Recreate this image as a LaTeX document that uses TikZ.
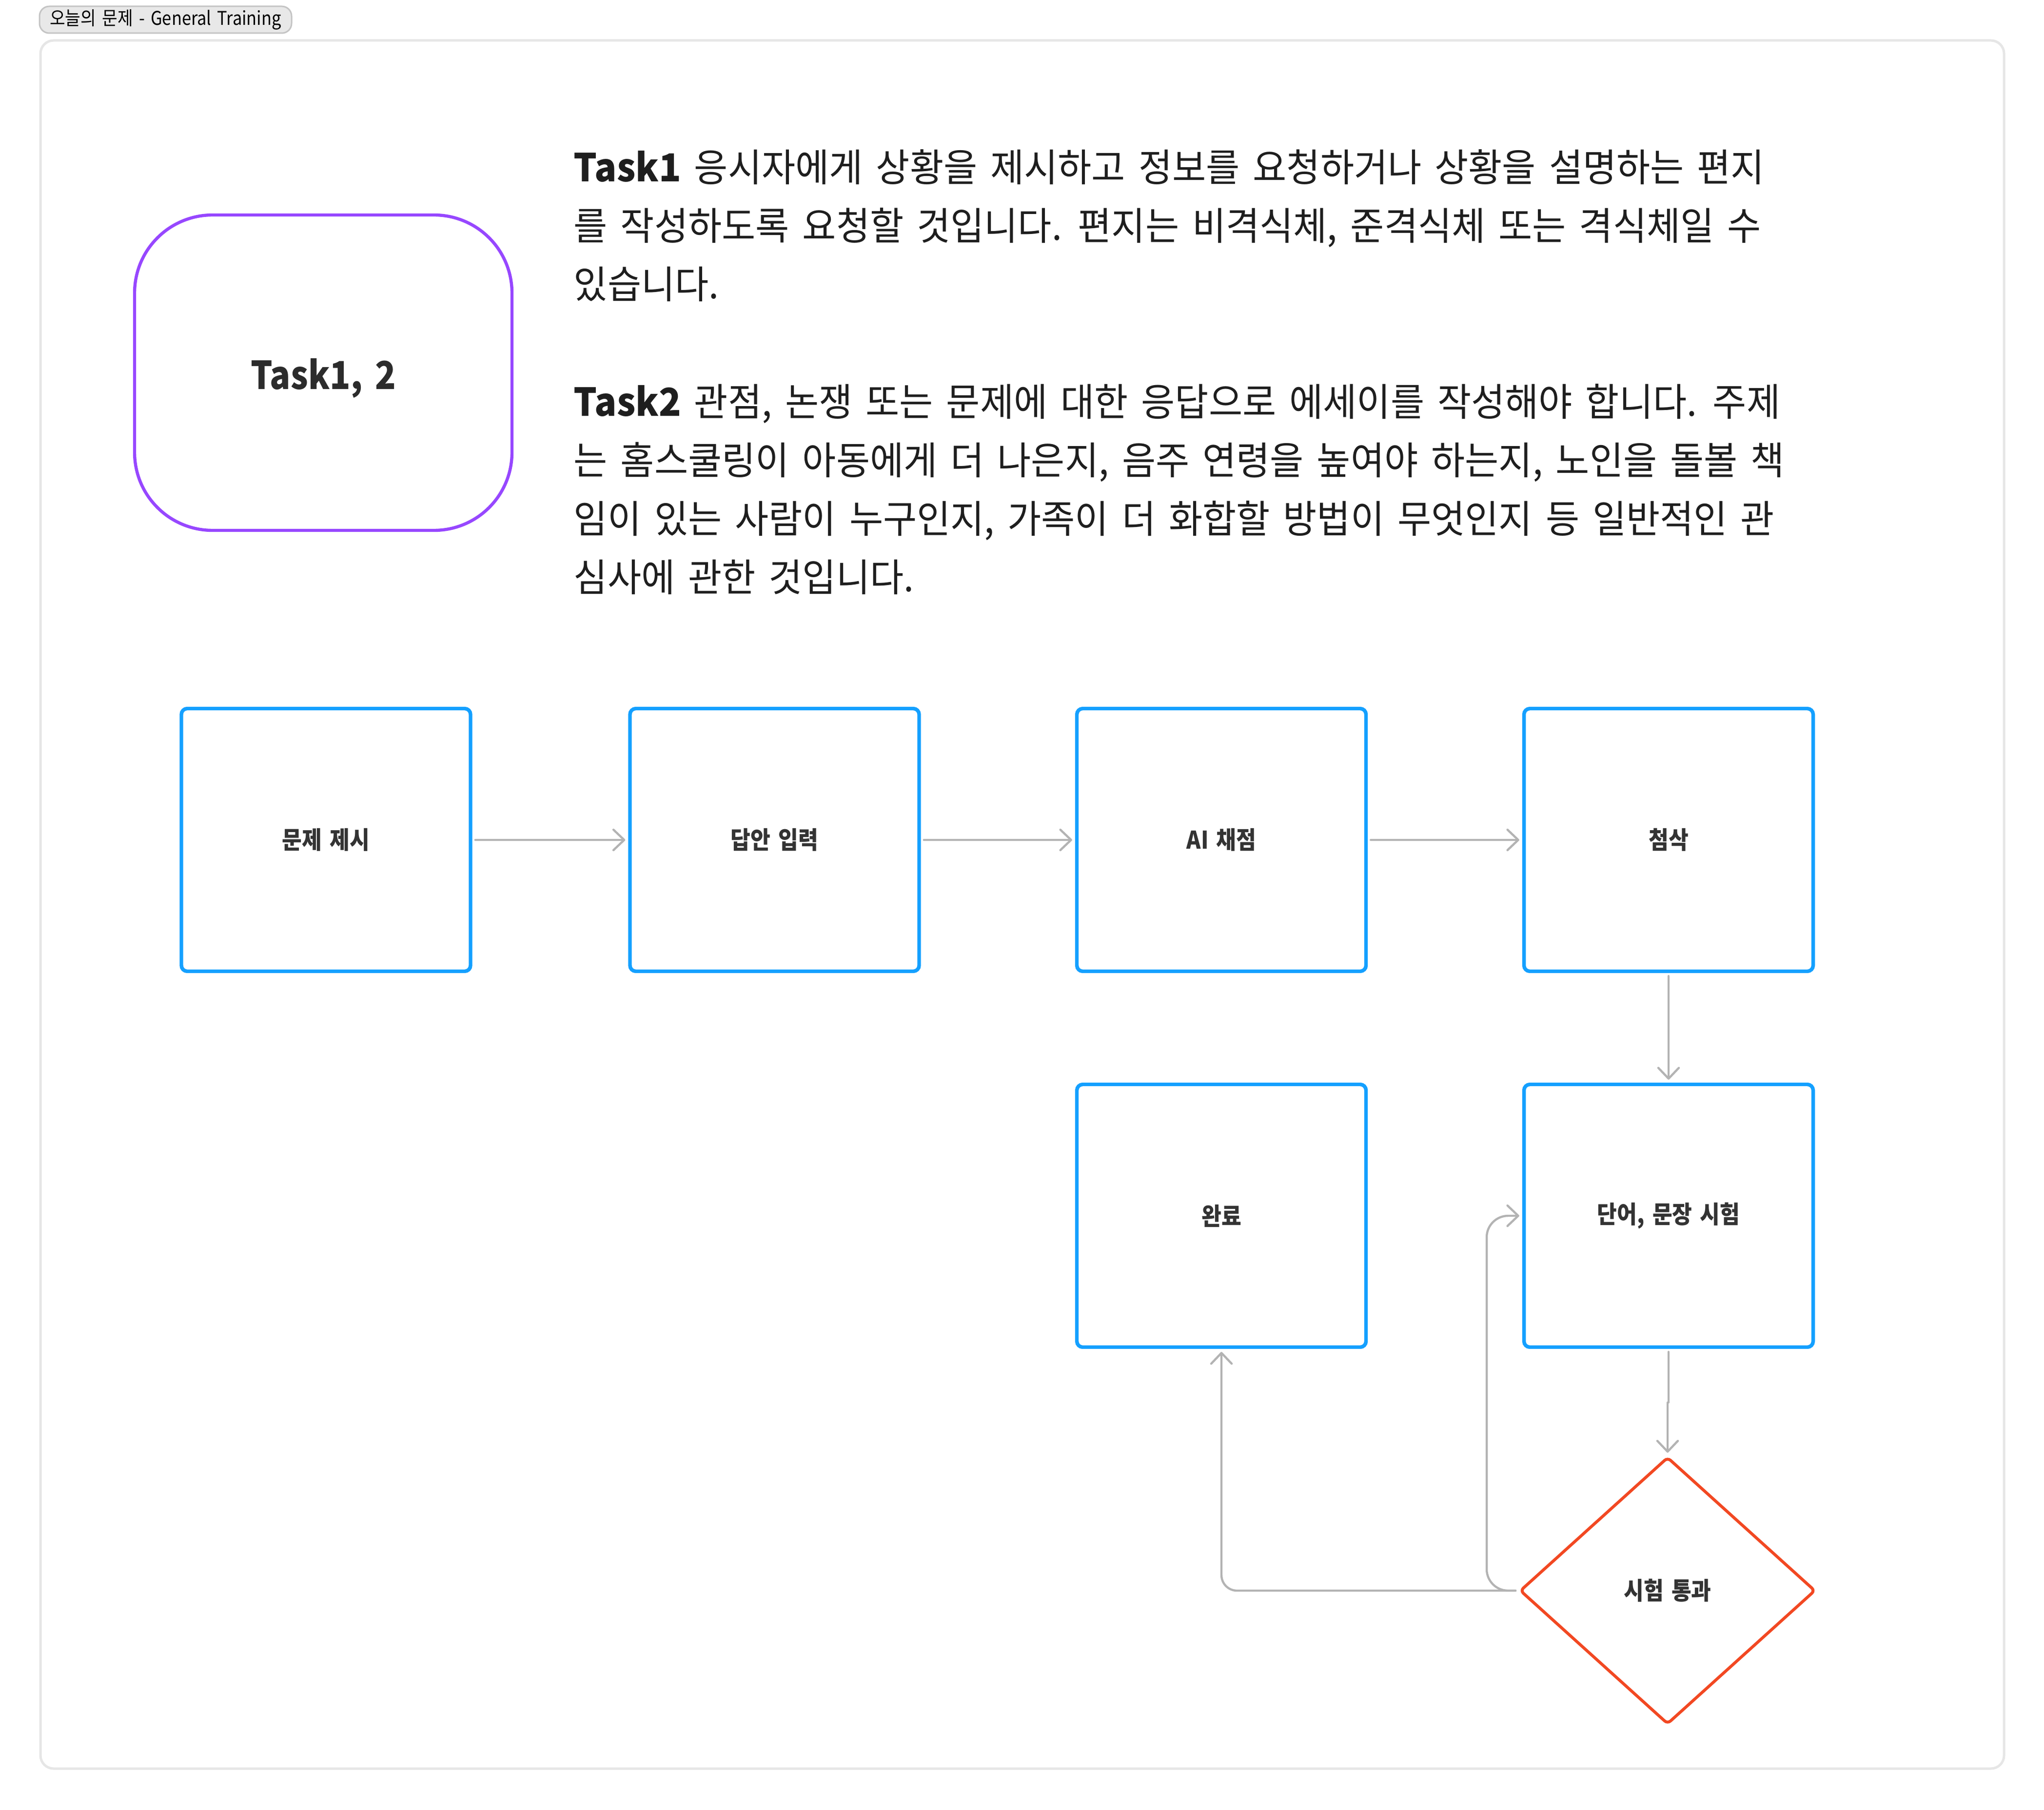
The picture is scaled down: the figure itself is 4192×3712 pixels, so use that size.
\documentclass[tikz,border=0pt]{standalone}
\usepackage{fontspec}
\setmainfont{Noto Sans CJK KR}[FakeStretch=0.886,WordSpace=1.6]
\newfontfamily\parafont{Noto Sans CJK KR}[FakeStretch=0.952,WordSpace=1.6]
\usetikzlibrary{arrows.meta,shapes.geometric}
\definecolor{cblue}{HTML}{14A0FF}
\definecolor{cpurple}{HTML}{9747FF}
\definecolor{cred}{HTML}{F24822}
\definecolor{cgrey}{HTML}{B3B3B3}
\definecolor{cframe}{HTML}{E6E6E6}
\definecolor{ctagfill}{HTML}{E8E8E8}
\definecolor{ctagdraw}{HTML}{C4C4C4}
\definecolor{ctext}{HTML}{1E1E1E}
\definecolor{clabel}{HTML}{333333}
\definecolor{ctask}{HTML}{2C2C2C}
\begin{document}
\begin{tikzpicture}[x=0.25pt,y=-0.25pt,
  stepbox/.style={draw=cblue, line width=1.85pt, rounded corners=3pt, minimum width=148.25pt, minimum height=134.75pt, inner sep=0pt, font=\fontsize{12.5pt}{15pt}\selectfont\bfseries, text=clabel},
  conn/.style={draw=cgrey, line width=1.1pt, line cap=round, line join=round, -{Straight Barb[length=5.5pt,width=10.5pt,round]}, shorten >=1.5pt, shorten <=1.5pt},
  para/.style={anchor=base west, inner sep=0pt, font=\parafont\fontsize{19.75pt}{30pt}\selectfont, text=ctext}]
\fill[white] (0,0) rectangle (4192,3712);
\useasboundingbox (0,0) rectangle (4192,3712);
\draw[cframe, line width=1.25pt, rounded corners=6.75pt] (83,83) rectangle (4110,3628);
\node[draw=ctagdraw, fill=ctagfill, line width=0.75pt, rounded corners=5pt, minimum width=129.25pt, minimum height=13.75pt, inner sep=0pt, font=\fontsize{9.7pt}{11pt}\selectfont] (tag) at (339.5,40.5) {오늘의 문제 - General Training};
\node[draw=cpurple, line width=1.6pt, rounded corners=40pt, minimum width=193.5pt, minimum height=161.75pt, inner sep=0pt, font=\fontsize{19.75pt}{24pt}\selectfont\bfseries, text=ctask] (task) at (663,764.5) {\raisebox{-8.4pt}[0pt][0pt]{Task1, 2}};
\node[para] (p1) at (1176,373) {\textbf{Task1} 응시자에게 상황을 제시하고 정보를 요청하거나 상황을 설명하는 편지};
\node[para] (p2) at (1176,493) {를 작성하도록 요청할 것입니다. 편지는 비격식체, 준격식체 또는 격식체일 수};
\node[para] (p3) at (1176,613) {있습니다.};
\node[para] (p4) at (1176,853) {\textbf{Task2} 관점, 논쟁 또는 문제에 대한 응답으로 에세이를 작성해야 합니다. 주제};
\node[para] (p5) at (1176,973) {는 홈스쿨링이 아동에게 더 나은지, 음주 연령을 높여야 하는지, 노인을 돌볼 책};
\node[para] (p6) at (1176,1093) {임이 있는 사람이 누구인지, 가족이 더 화합할 방법이 무엇인지 등 일반적인 관};
\node[para] (p7) at (1176,1213) {심사에 관한 것입니다.};
\node[stepbox] (s1) at (668.5,1723) {문제 제시};
\node[stepbox] (s2) at (1588.5,1723) {답안 입력};
\node[stepbox] (s3) at (2505,1723) {AI 채점};
\node[stepbox] (s4) at (3422,1723) {첨삭};
\node[stepbox] (s5) at (2505,2494) {완료};
\node[stepbox] (s6) at (3422,2494) {단어, 문장 시험};
\node[diamond, draw=cred, line width=1.5pt, minimum width=151.5pt, minimum height=137pt, inner sep=0pt, rounded corners=2pt, font=\fontsize{12.5pt}{15pt}\selectfont\bfseries, text=clabel] (dia) at (3420,3263) {시험 통과};
\draw[conn] (s1) -- (s2);
\draw[conn] (s2) -- (s3);
\draw[conn] (s3) -- (s4);
\draw[conn] (s4) -- (s6);
\draw[conn] (s6.south) -- ++(0,110) -| (dia.north);
\draw[conn, rounded corners=8pt] (dia.west) -| (s5.south);
\draw[conn, rounded corners=11pt] (dia.west) -- ++(-65,0) |- (s6.west);
\end{tikzpicture}
\end{document}
